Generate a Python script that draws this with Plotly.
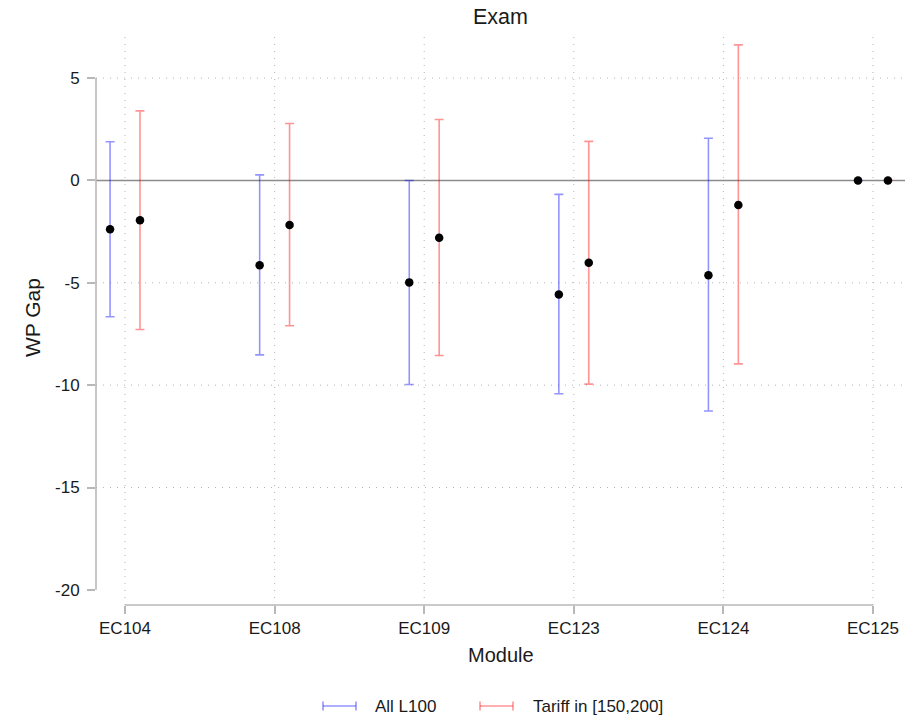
import plotly.graph_objects as go

# Estimated WP gap by module, with confidence bounds
modules = ["EC104", "EC108", "EC109", "EC123", "EC124", "EC125"]

all_est = [-2.39, -4.14, -4.98, -5.57, -4.63, 0.0]
all_lo = [-6.66, -8.52, -9.97, -10.42, -11.26, 0.0]
all_hi = [1.89, 0.27, 0.00, -0.68, 2.06, 0.0]

tariff_est = [-1.95, -2.18, -2.80, -4.02, -1.20, 0.0]
tariff_lo = [-7.28, -7.10, -8.55, -9.95, -8.96, 0.0]
tariff_hi = [3.40, 2.78, 2.98, 1.91, 6.62, 0.0]

y_ticks = [5, 0, -5, -10, -15, -20]
y_tick_labels = ["5", "0", "-5", "-10", "-15", "-20"]
series_names = ["All L100", "Tariff in [150,200]"]

# Canvas geometry (pixels)
W, H = 912, 718
L, R, T, B = 96, 7, 31, 113
PW, PH = W - L - R, H - T - B

BLUE = "rgba(0,0,255,0.42)"
RED = "rgba(255,0,0,0.42)"
AXIS = "#b8b8b8"
GRID = "#b4b4b4"
GRID_DASH = "1px,6px"
FONT = "Liberation Sans, Arial, sans-serif"
TXT = "#1a1a1a"

offset = 0.1
xs = list(range(len(modules)))
x_range = [-0.194, 5.214]
y_range = [-20.74, 7.30]


def px_x(p):
    return (p - L) / PW


def px_y(p):
    return (H - B - p) / PH


fig = go.Figure()

for est, lo, hi, color, sgn in [
    (all_est, all_lo, all_hi, BLUE, -1),
    (tariff_est, tariff_lo, tariff_hi, RED, 1),
]:
    fig.add_trace(go.Scatter(
        x=[x + sgn * offset for x in xs],
        y=est,
        mode="markers",
        marker=dict(color="black", size=8.5, line=dict(width=0)),
        error_y=dict(
            type="data",
            symmetric=False,
            array=[h - e for h, e in zip(hi, est)],
            arrayminus=[e - l for e, l in zip(est, lo)],
            color=color,
            thickness=1.6,
            width=4.5,
        ),
        showlegend=False,
        hoverinfo="skip",
    ))

shapes = []
# dotted grid: vertical at each module, horizontal at non-zero ticks
for x in xs:
    shapes.append(dict(type="line", xref="x", yref="paper", x0=x, x1=x, y0=0, y1=1,
                       line=dict(color=GRID, width=1, dash=GRID_DASH), layer="below"))
for v in y_ticks:
    if v not in (0, y_ticks[-1]):
        shapes.append(dict(type="line", xref="paper", yref="y", x0=0, x1=1, y0=v, y1=v,
                           line=dict(color=GRID, width=1, dash=GRID_DASH), layer="below"))
# zero reference line
shapes.append(dict(type="line", xref="paper", yref="y", x0=0, x1=1, y0=0, y1=0,
                   line=dict(color="rgba(100,100,100,0.75)", width=1.6), layer="below"))
# axis lines spanning the tick range only
shapes.append(dict(type="line", xref="paper", yref="y", x0=0, x1=0,
                   y0=min(y_ticks), y1=max(y_ticks), line=dict(color=AXIS, width=1.6)))
shapes.append(dict(type="line", xref="x", yref="paper", x0=xs[0], x1=xs[-1],
                   y0=0, y1=0, line=dict(color=AXIS, width=1.6)))

# legend keys: capped horizontal segments
legend_keys = [(323, 356, BLUE, 373), (480, 513, RED, 531)]
annotations = []
ly = 706
for (xa, xb, col, tx), name in zip(legend_keys, series_names):
    shapes.append(dict(type="line", xref="paper", yref="paper",
                       x0=px_x(xa), x1=px_x(xb), y0=px_y(ly), y1=px_y(ly),
                       line=dict(color=col, width=1.6)))
    for xc in (xa, xb):
        shapes.append(dict(type="line", xref="paper", yref="paper",
                           x0=px_x(xc), x1=px_x(xc), y0=px_y(ly - 4.5), y1=px_y(ly + 4.5),
                           line=dict(color=col, width=1.6)))
    annotations.append(dict(text=name, xref="paper", yref="paper", x=px_x(tx), y=px_y(ly),
                            xanchor="left", yanchor="middle", showarrow=False,
                            font=dict(size=17, color=TXT, family=FONT)))

# axis titles
annotations.append(dict(text="Module", xref="paper", yref="paper", x=0.5, y=px_y(655),
                        xanchor="center", yanchor="middle", showarrow=False,
                        font=dict(size=20, color=TXT, family=FONT)))
annotations.append(dict(text="WP Gap", xref="paper", yref="paper", x=px_x(32), y=0.5,
                        xanchor="center", yanchor="middle", showarrow=False, textangle=-90,
                        font=dict(size=21, color=TXT, family=FONT)))

fig.update_layout(
    width=W, height=H,
    margin=dict(l=L, r=R, t=T, b=B, pad=0),
    paper_bgcolor="white", plot_bgcolor="white",
    font=dict(family=FONT, size=17, color=TXT),
    title=dict(text="Exam", x=0.5, xref="paper", y=1 - 16 / H, yref="container",
               xanchor="center", yanchor="middle", font=dict(size=21.5, color=TXT, family=FONT)),
    xaxis=dict(range=x_range, tickvals=xs, ticktext=modules, showgrid=False,
               zeroline=False, showline=False, ticks="outside", ticklen=8,
               tickwidth=1.6, tickcolor=AXIS, tickfont=dict(size=17, color=TXT)),
    yaxis=dict(range=y_range, tickvals=y_ticks, ticktext=y_tick_labels, showgrid=False,
               zeroline=False, showline=False, ticks="outside", ticklen=8, tickwidth=1.6,
               tickcolor=AXIS, ticklabelstandoff=4, tickfont=dict(size=17, color=TXT)),
    shapes=shapes,
    annotations=annotations,
    showlegend=False,
)

fig.write_html("out.html")
